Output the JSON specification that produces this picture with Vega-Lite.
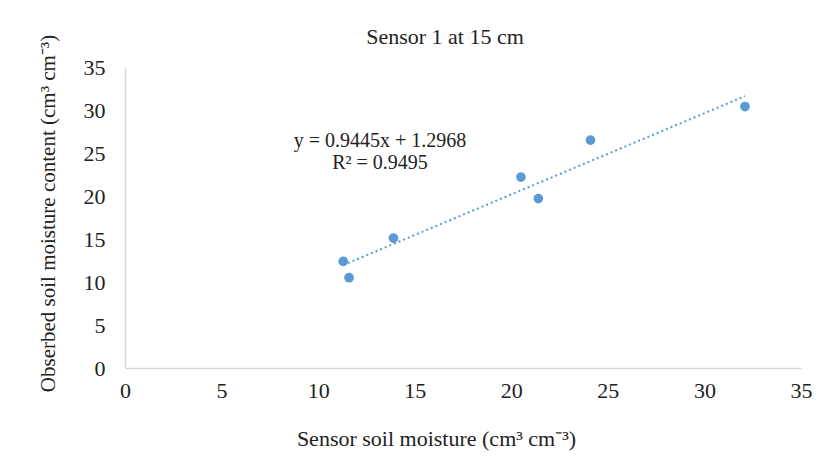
{
  "$schema": "https://vega.github.io/schema/vega-lite/v6.json",
  "autosize": "none",
  "width": 676,
  "height": 301,
  "padding": {"left": 125, "top": 67, "right": 23, "bottom": 96},
  "background": "white",
  "config": {
    "font": "Liberation Serif",
    "view": {"stroke": null},
    "axis": {"labelFont": "Liberation Serif", "titleFont": "Liberation Serif", "titleFontWeight": "normal", "labelColor": "#222", "titleColor": "#222"}
  },
  "title": {"text": "Sensor 1 at 15 cm", "fontSize": 22, "font": "Liberation Serif", "fontWeight": "normal", "color": "#222", "anchor": "middle", "dx": -18, "offset": -15},
  "datasets": {
    "pts": [
      {"sensor": 11.3, "observed": 12.4},
      {"sensor": 11.6, "observed": 10.5},
      {"sensor": 13.9, "observed": 15.1},
      {"sensor": 20.5, "observed": 22.2},
      {"sensor": 21.4, "observed": 19.7},
      {"sensor": 24.1, "observed": 26.5},
      {"sensor": 32.1, "observed": 30.4}
    ],
    "trend": [
      {"sensor": 11.3, "observed": 11.97},
      {"sensor": 32.1, "observed": 31.61}
    ],
    "notes": [
      {"sensor": 13.2, "observed": 26.4, "label": "y = 0.9445x + 1.2968"},
      {"sensor": 13.2, "observed": 23.8, "label": "R² = 0.9495"}
    ]
  },
  "layer": [
    {
      "data": {"name": "trend"},
      "mark": {"type": "line", "color": "#5B9BD5", "strokeWidth": 2, "strokeDash": [2, 3]},
      "encoding": {
        "x": {"field": "sensor", "type": "quantitative", "scale": {"domain": [0, 35]},
          "axis": {"values": [0,5,10,15,20,25,30,35], "grid": false, "ticks": false, "labelFlush": false, "domainColor": "#D9D9D9", "domainWidth": 1.5, "labelFontSize": 22, "labelPadding": 12, "title": "Sensor soil moisture (cm³ cm⁻³)", "titleFontSize": 22, "titleX": 311, "titleY": 60, "titleAnchor": "middle"}},
        "y": {"field": "observed", "type": "quantitative", "scale": {"domain": [0, 35]},
          "axis": {"values": [0,5,10,15,20,25,30,35], "grid": false, "ticks": false, "labelFlush": false, "domainColor": "#D9D9D9", "domainWidth": 1.5, "labelFontSize": 22, "labelPadding": 20, "title": "Obserbed soil moisture content (cm³ cm⁻³)", "titleFontSize": 21, "titleX": -67, "titleY": 146, "titleAnchor": "middle"}}
      }
    },
    {
      "data": {"name": "pts"},
      "mark": {"type": "circle", "color": "#5B9BD5", "opacity": 1, "size": 95},
      "encoding": {
        "x": {"field": "sensor", "type": "quantitative"},
        "y": {"field": "observed", "type": "quantitative"}
      }
    },
    {
      "data": {"name": "notes"},
      "mark": {"type": "text", "fontSize": 20, "font": "Liberation Serif", "color": "#222", "align": "center", "baseline": "middle"},
      "encoding": {
        "x": {"field": "sensor", "type": "quantitative"},
        "y": {"field": "observed", "type": "quantitative"},
        "text": {"field": "label"}
      }
    }
  ]
}
